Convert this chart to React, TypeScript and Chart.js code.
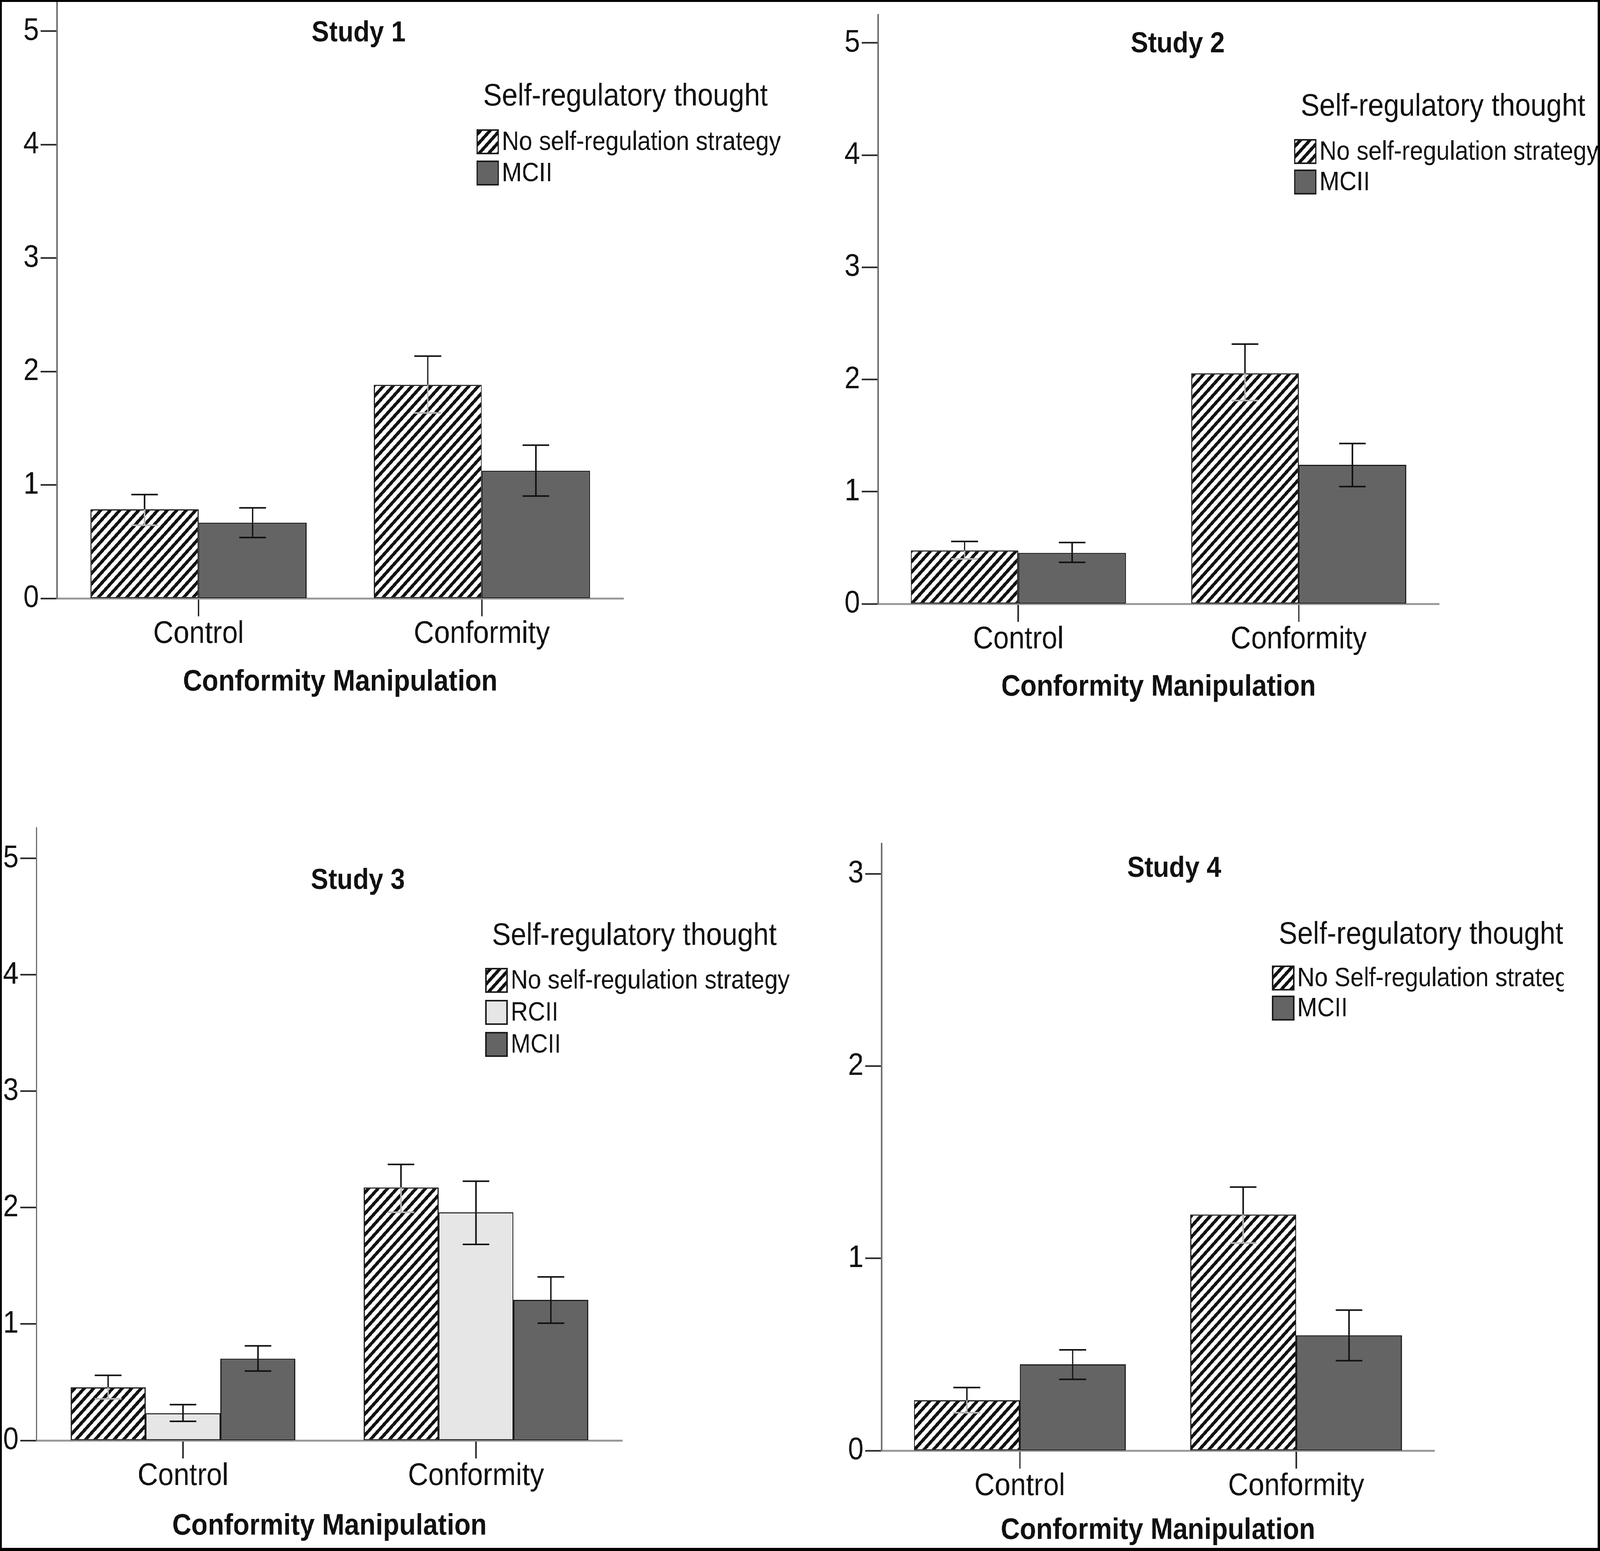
import { useEffect, useRef } from 'react';
import { Chart, registerables } from 'chart.js';

Chart.register(...registerables);

Chart.defaults.font.family = '"Liberation Sans", Arial, sans-serif';
Chart.defaults.color = '#111';

const categories = ['Control', 'Conformity'];
const ticksTo5 = [0, 1, 2, 3, 4, 5];
const ticksTo3 = [0, 1, 2, 3];

// Study 1
const s1NoStrategy = [0.785, 1.883];
const s1NoStrategyLow = [0.645, 1.635];
const s1NoStrategyHigh = [0.915, 2.136];
const s1Mcii = [0.667, 1.125];
const s1MciiLow = [0.536, 0.902];
const s1MciiHigh = [0.798, 1.351];

// Study 2
const s2NoStrategy = [0.476, 2.055];
const s2NoStrategyLow = [0.4, 1.812];
const s2NoStrategyHigh = [0.556, 2.315];
const s2Mcii = [0.454, 1.239];
const s2MciiLow = [0.37, 1.045];
const s2MciiHigh = [0.547, 1.429];

// Study 3
const s3NoStrategy = [0.456, 2.173];
const s3NoStrategyLow = [0.357, 1.96];
const s3NoStrategyHigh = [0.559, 2.371];
const s3Rcii = [0.234, 1.96];
const s3RciiLow = [0.164, 1.684];
const s3RciiHigh = [0.308, 2.227];
const s3Mcii = [0.703, 1.208];
const s3MciiLow = [0.596, 1.007];
const s3MciiHigh = [0.813, 1.405];

// Study 4
const s4NoStrategy = [0.262, 1.228];
const s4NoStrategyLow = [0.197, 1.08];
const s4NoStrategyHigh = [0.328, 1.371];
const s4Mcii = [0.449, 0.6];
const s4MciiLow = [0.371, 0.468];
const s4MciiHigh = [0.524, 0.731];

type Kind = 'hatch' | 'light' | 'dark';
type Series = { label: string; kind: Kind; values: number[]; low: number[]; high: number[] };

type PanelCfg = {
  title: string;
  series: Series[];
  yTicks: number[];
  yMax: number;
  box: { x: number; y: number; w: number; h: number };
  area: { left: number; right: number; top: number; bottom: number };
  titleAt: { x: number; y: number };
  legend: { x: number; titleY: number; itemY: number; step: number; clipRight?: number };
  xTitlePad: number;
  catPct: number;
};

const NO_STRAT = 'No self-regulation strategy';

// design size of the whole figure
const FIG_W = 4550;
const FIG_H = 3971;

const panels: PanelCfg[] = [
  {
    title: 'Study 1',
    series: [
      { label: NO_STRAT, kind: 'hatch', values: s1NoStrategy, low: s1NoStrategyLow, high: s1NoStrategyHigh },
      { label: 'MCII', kind: 'dark', values: s1Mcii, low: s1MciiLow, high: s1MciiHigh }
    ],
    yTicks: ticksTo5,
    yMax: 5.275,
    box: { x: 0, y: 0, w: 2275, h: 1985 },
    area: { left: 162, right: 1773, top: 0, bottom: 1532 },
    titleAt: { x: 1020, y: 86 },
    legend: { x: 1357, titleY: 248, itemY: 363, step: 80 },
    xTitlePad: 200,
    catPct: 0.763
  },
  {
    title: 'Study 2',
    series: [
      { label: NO_STRAT, kind: 'hatch', values: s2NoStrategy, low: s2NoStrategyLow, high: s2NoStrategyHigh },
      { label: 'MCII', kind: 'dark', values: s2Mcii, low: s2MciiLow, high: s2MciiHigh }
    ],
    yTicks: ticksTo5,
    yMax: 5.25,
    box: { x: 2275, y: 0, w: 2275, h: 1985 },
    area: { left: 222, right: 1817, top: 38, bottom: 1546 },
    titleAt: { x: 1074, y: 114 },
    legend: { x: 1407, titleY: 274, itemY: 388, step: 78 },
    xTitlePad: 187,
    catPct: 0.767
  },
  {
    title: 'Study 3',
    series: [
      { label: NO_STRAT, kind: 'hatch', values: s3NoStrategy, low: s3NoStrategyLow, high: s3NoStrategyHigh },
      { label: 'RCII', kind: 'light', values: s3Rcii, low: s3RciiLow, high: s3RciiHigh },
      { label: 'MCII', kind: 'dark', values: s3Mcii, low: s3MciiLow, high: s3MciiHigh }
    ],
    yTicks: ticksTo5,
    yMax: 5.26,
    box: { x: 0, y: 1985, w: 2275, h: 1986 },
    area: { left: 104, right: 1770, top: 135, bottom: 1703 },
    titleAt: { x: 1018, y: 271 },
    legend: { x: 1382, titleY: 412, itemY: 525, step: 82 },
    xTitlePad: 25,
    catPct: 0.767
  },
  {
    title: 'Study 4',
    series: [
      { label: 'No Self-regulation strategy', kind: 'hatch', values: s4NoStrategy, low: s4NoStrategyLow, high: s4NoStrategyHigh },
      { label: 'MCII', kind: 'dark', values: s4Mcii, low: s4MciiLow, high: s4MciiHigh }
    ],
    yTicks: ticksTo3,
    yMax: 3.157,
    box: { x: 2275, y: 1985, w: 2275, h: 1986 },
    area: { left: 232, right: 1804, top: 175, bottom: 1729 },
    titleAt: { x: 1064, y: 240 },
    legend: { x: 1344, titleY: 409, itemY: 519, step: 77, clipRight: 2172 },
    xTitlePad: 14,
    catPct: 0.766
  }
];

const DARK = '#646464';
const LIGHT = '#e6e6e6';
const EDGE = '#1c1c1c';

function makeHatch(ctx: CanvasRenderingContext2D) {
  const s = 27;
  const c = document.createElement('canvas');
  c.width = s;
  c.height = s;
  const g = c.getContext('2d')!;
  g.fillStyle = '#fff';
  g.fillRect(0, 0, s, s);
  g.strokeStyle = '#111';
  g.lineWidth = 8.5;
  g.beginPath();
  g.moveTo(-s / 2, s / 2);
  g.lineTo(s / 2, -s / 2);
  g.moveTo(0, s);
  g.lineTo(s, 0);
  g.moveTo(s / 2, s * 1.5);
  g.lineTo(s * 1.5, s / 2);
  g.stroke();
  return ctx.createPattern(c, 'repeat')!;
}

function Panel({ cfg }: { cfg: PanelCfg }) {
  const ref = useRef<HTMLCanvasElement | null>(null);

  useEffect(() => {
    if (!ref.current) return;
    const ctx0 = ref.current.getContext('2d')!;
    const hatch = makeHatch(ctx0);
    const fillFor = (k: Kind) => (k === 'hatch' ? hatch : k === 'light' ? LIGHT : DARK);
    const { box, area, legend } = cfg;

    // error bars, panel title and the legend block
    const decor = {
      id: 'decor',
      afterDatasetsDraw(chart: Chart) {
        const ctx = chart.ctx;
        const y = chart.scales.y;
        cfg.series.forEach((s, di) => {
          const meta = chart.getDatasetMeta(di);
          meta.data.forEach((bar, i) => {
            const x = bar.x;
            const top = y.getPixelForValue(s.values[i]);
            const hi = y.getPixelForValue(s.high[i]);
            const lo = y.getPixelForValue(s.low[i]);
            const cap = 38;
            ctx.save();
            ctx.lineWidth = 4;
            ctx.strokeStyle = '#111';
            ctx.beginPath();
            ctx.moveTo(x, top);
            ctx.lineTo(x, hi);
            ctx.moveTo(x - cap, hi);
            ctx.lineTo(x + cap, hi);
            ctx.stroke();
            ctx.strokeStyle = s.kind === 'hatch' ? '#b8b8b8' : '#111';
            ctx.beginPath();
            ctx.moveTo(x, top);
            ctx.lineTo(x, lo);
            ctx.moveTo(x - cap, lo);
            ctx.lineTo(x + cap, lo);
            ctx.stroke();
            ctx.restore();
          });
        });
      },
      afterDraw(chart: Chart) {
        const ctx = chart.ctx;
        ctx.save();
        ctx.fillStyle = '#111';
        ctx.textBaseline = 'middle';
        ctx.textAlign = 'center';
        ctx.font = 'bold 74px "Liberation Sans", Arial, sans-serif';
        ctx.fillText(cfg.title, cfg.titleAt.x, cfg.titleAt.y);

        if (legend.clipRight) {
          ctx.beginPath();
          ctx.rect(0, 0, legend.clipRight, box.h);
          ctx.clip();
        }
        ctx.textAlign = 'left';
        ctx.font = '80px "Liberation Sans", Arial, sans-serif';
        ctx.fillText('Self-regulatory thought', legend.x + 17, legend.titleY);
        ctx.font = '68px "Liberation Sans", Arial, sans-serif';
        cfg.series.forEach((s, i) => {
          const cy = legend.itemY + i * legend.step;
          const sz = 60;
          ctx.fillStyle = fillFor(s.kind);
          ctx.fillRect(legend.x, cy - sz / 2, sz, sz);
          ctx.lineWidth = 4;
          ctx.strokeStyle = EDGE;
          ctx.strokeRect(legend.x, cy - sz / 2, sz, sz);
          ctx.fillStyle = '#111';
          ctx.fillText(s.label, legend.x + 70, cy + 2);
        });
        ctx.restore();
      }
    };

    const chart = new Chart(ref.current, {
      type: 'bar',
      data: {
        labels: categories,
        datasets: cfg.series.map((s) => ({
          label: s.label,
          data: s.values,
          backgroundColor: fillFor(s.kind),
          borderColor: EDGE,
          borderWidth: 3,
          borderSkipped: false,
          barPercentage: 1,
          categoryPercentage: cfg.catPct
        })) as never
      },
      options: {
        responsive: false,
        animation: false,
        devicePixelRatio: 1,
        layout: {
          padding: { left: 0, top: area.top, right: box.w - area.right, bottom: 0 }
        },
        plugins: {
          legend: { display: false },
          tooltip: { enabled: false },
          title: { display: false }
        },
        scales: {
          x: {
            type: 'category',
            offset: true,
            grid: {
              display: true,
              offset: false,
              drawOnChartArea: false,
              drawTicks: true,
              tickLength: 46,
              tickWidth: 4,
              tickColor: '#222'
            },
            border: { display: true, color: '#9a9a9a', width: 5 },
            ticks: {
              font: { size: 80, lineHeight: 1 },
              padding: 6,
              color: '#111',
              maxRotation: 0,
              autoSkip: false
            },
            title: {
              display: true,
              text: 'Conformity Manipulation',
              font: { size: 76, weight: 'bold', lineHeight: 1 },
              color: '#111',
              padding: { top: 0, bottom: cfg.xTitlePad }
            },
            afterFit: (scale: any) => {
              scale.height = box.h - area.bottom;
              scale.paddingLeft = 0;
              scale.paddingRight = 0;
            }
          },
          y: {
            type: 'linear',
            min: 0,
            max: cfg.yMax,
            grid: {
              display: true,
              drawOnChartArea: false,
              drawTicks: true,
              tickLength: 46,
              tickWidth: 4,
              tickColor: '#222'
            },
            border: { display: true, color: '#6e6e6e', width: 4 },
            ticks: {
              font: { size: 80 },
              padding: 5,
              color: '#111'
            },
            afterBuildTicks: (scale: any) => {
              scale.ticks = cfg.yTicks.map((v) => ({ value: v }));
            },
            afterFit: (scale: any) => {
              scale.width = area.left;
              scale.paddingTop = 0;
              scale.paddingBottom = 0;
            }
          }
        }
      },
      plugins: [decor]
    });

    return () => chart.destroy();
  }, [cfg]);

  return (
    <canvas
      ref={ref}
      width={cfg.box.w}
      height={cfg.box.h}
      style={{
        position: 'absolute',
        left: cfg.box.x,
        top: cfg.box.y,
        width: cfg.box.w,
        height: cfg.box.h
      }}
    />
  );
}

export default function App() {
  // the window may be narrower than the figure: squeeze the figure to fit it
  const sx = Math.min(1, window.innerWidth / FIG_W);
  const sy = Math.min(1, window.innerHeight / FIG_H);
  return (
    <div
      style={{
        position: 'absolute',
        left: 0,
        top: 0,
        width: FIG_W,
        height: FIG_H,
        background: '#fff',
        overflow: 'hidden',
        transform: `scale(${sx}, ${sy})`,
        transformOrigin: '0 0'
      }}
    >
      {panels.map((p) => (
        <Panel key={p.title} cfg={p} />
      ))}
      <div
        style={{
          position: 'absolute',
          left: 0,
          top: 0,
          width: FIG_W,
          height: FIG_H,
          boxSizing: 'border-box',
          borderStyle: 'solid',
          borderColor: '#000',
          borderWidth: '5px 7px 8px 5px',
          pointerEvents: 'none'
        }}
      />
    </div>
  );
}
